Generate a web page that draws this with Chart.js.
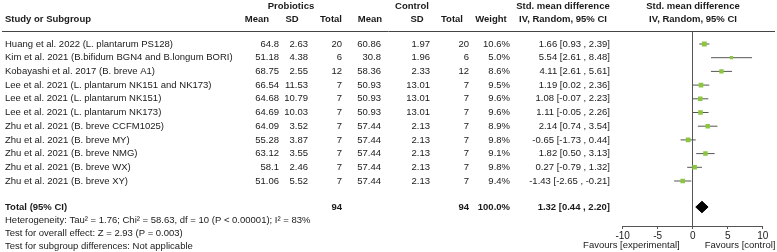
<!DOCTYPE html>
<html>
<head>
<meta charset="utf-8">
<script src="https://cdn.jsdelivr.net/npm/chart.js@4.4.1/dist/chart.umd.min.js"></script>
<style>
  body { margin: 0; background: #fff; }
  #wrap { width: 777px; height: 252px; }
</style>
</head>
<body>
<div id="wrap"><canvas id="forest"></canvas></div>
<script>
const studies = [
  'Huang et al. 2022 (L. plantarum PS128)',
  'Kim et al. 2021 (B.bifidum BGN4 and B.longum BORI)',
  'Kobayashi et al. 2017 (B. breve A1)',
  'Lee et al. 2021 (L. plantarum NK151 and NK173)',
  'Lee et al. 2021 (L. plantarum NK151)',
  'Lee et al. 2021 (L. plantarum NK173)',
  'Zhu et al. 2021 (B. breve CCFM1025)',
  'Zhu et al. 2021 (B. breve MY)',
  'Zhu et al. 2021 (B. breve NMG)',
  'Zhu et al. 2021 (B. breve WX)',
  'Zhu et al. 2021 (B. breve XY)'
];
const probMean = ['64.8', '51.18', '68.75', '66.54', '64.68', '64.69', '64.09', '55.28', '63.12', '58.1', '51.06'];
const probSD = ['2.63', '4.38', '2.55', '11.53', '10.79', '10.03', '3.52', '3.87', '3.55', '2.46', '5.52'];
const probN = [20, 6, 12, 7, 7, 7, 7, 7, 7, 7, 7];
const ctrlMean = ['60.86', '30.8', '58.36', '50.93', '50.93', '50.93', '57.44', '57.44', '57.44', '57.44', '57.44'];
const ctrlSD = ['1.97', '1.96', '2.33', '13.01', '13.01', '13.01', '2.13', '2.13', '2.13', '2.13', '2.13'];
const ctrlN = [20, 6, 12, 7, 7, 7, 7, 7, 7, 7, 7];
const weights = [10.6, 5.0, 8.6, 9.5, 9.6, 9.6, 8.9, 9.8, 9.1, 9.8, 9.4];
const smd = [1.66, 5.54, 4.11, 1.19, 1.08, 1.11, 2.14, -0.65, 1.82, 0.27, -1.43];
const ciLow = [0.93, 2.61, 2.61, 0.02, -0.07, -0.05, 0.74, -1.73, 0.50, -0.79, -2.65];
const ciHigh = [2.39, 8.48, 5.61, 2.36, 2.23, 2.26, 3.54, 0.44, 3.13, 1.32, -0.21];
const totalN = [94, 94];
const totalEffect = [1.32, 0.44, 2.20]; // estimate, low, high
const xTicks = [-10, -5, 0, 5, 10];
const footer = [
  'Heterogeneity: Tau\u00b2 = 1.76; Chi\u00b2 = 58.63, df = 10 (P < 0.00001); I\u00b2 = 83%',
  'Test for overall effect: Z = 2.93 (P = 0.003)',
  'Test for subgroup differences: Not applicable'
];

const FONT = '"Liberation Sans", Arial, sans-serif';
const SIZE = 9.5;
const TEXT = '#1a1a1a';
const LINE = '#555';
const TOTAL_ROW = 11.9;

const fmt = (v) => v.toFixed(2);
const effectText = (m, lo, hi) => fmt(m) + ' [' + fmt(lo) + ' , ' + fmt(hi) + ']';

// right edges of the table columns
const cols = { mean1: 279, sd1: 308, n1: 342, mean2: 381, sd2: 430, n2: 469, weight: 510, effect: 610 };

const tablePlugin = {
  id: 'table',
  afterDraw(chart) {
    const ctx = chart.ctx;
    const y = chart.scales.y;
    const x = chart.scales.x;
    ctx.save();
    ctx.fillStyle = TEXT;
    ctx.textBaseline = 'middle';

    const put = (s, px, py, align, bold) => {
      ctx.font = (bold ? 'bold ' : '') + SIZE + 'px ' + FONT;
      ctx.textAlign = align;
      ctx.fillText(s, px, py);
    };

    // headers
    put('Probiotics', 291, 6, 'center', true);
    put('Control', 412, 6, 'center', true);
    put('Std. mean difference', 563, 6, 'center', true);
    put('Std. mean difference', 693, 6, 'center', true);
    put('Study or Subgroup', 5, 19, 'left', true);
    put('Mean', 257, 19, 'center', true);
    put('SD', 292, 19, 'center', true);
    put('Total', 331, 19, 'center', true);
    put('Mean', 370, 19, 'center', true);
    put('SD', 417, 19, 'center', true);
    put('Total', 452, 19, 'center', true);
    put('Weight', 491, 19, 'center', true);
    put('IV, Random, 95% CI', 563, 19, 'center', true);
    put('IV, Random, 95% CI', 693, 19, 'center', true);

    ctx.strokeStyle = '#444';
    ctx.lineWidth = 1;
    ctx.beginPath();
    ctx.moveTo(2, 31.5);
    ctx.lineTo(775, 31.5);
    ctx.stroke();

    studies.forEach((s, i) => {
      const py = y.getPixelForValue(i);
      put(s, 5, py, 'left');
      put(probMean[i], cols.mean1, py, 'right');
      put(probSD[i], cols.sd1, py, 'right');
      put(String(probN[i]), cols.n1, py, 'right');
      put(ctrlMean[i], cols.mean2, py, 'right');
      put(ctrlSD[i], cols.sd2, py, 'right');
      put(String(ctrlN[i]), cols.n2, py, 'right');
      put(weights[i].toFixed(1) + '%', cols.weight, py, 'right');
      put(effectText(smd[i], ciLow[i], ciHigh[i]), cols.effect, py, 'right');
    });

    const ty = y.getPixelForValue(TOTAL_ROW);
    put('Total (95% CI)', 5, ty, 'left', true);
    put(String(totalN[0]), cols.n1, ty, 'right', true);
    put(String(totalN[1]), cols.n2, ty, 'right', true);
    put('100.0%', cols.weight, ty, 'right', true);
    put(effectText(totalEffect[0], totalEffect[1], totalEffect[2]), cols.effect, ty, 'right', true);

    footer.forEach((s, k) => put(s, 5, 220 + k * 13, 'left'));

    const zero = x.getPixelForValue(0);
    put('Favours [experimental]', zero - 13, 245, 'right');
    put('Favours [control]', zero + 12, 245, 'left');
    ctx.restore();
  }
};

const ciSets = studies.map((s, i) => ({
  type: 'line',
  data: [{ x: ciLow[i], y: i }, { x: ciHigh[i], y: i }],
  borderColor: LINE,
  borderWidth: 1,
  pointRadius: 0,
  order: 2
}));

const h = 0.42;
const diamond = {
  type: 'line',
  data: [
    { x: totalEffect[1], y: TOTAL_ROW },
    { x: totalEffect[0], y: TOTAL_ROW - h },
    { x: totalEffect[2], y: TOTAL_ROW },
    { x: totalEffect[0], y: TOTAL_ROW + h },
    { x: totalEffect[1], y: TOTAL_ROW }
  ],
  borderColor: '#000',
  backgroundColor: '#000',
  borderWidth: 1,
  pointRadius: 0,
  tension: 0,
  fill: 'shape',
  order: 1
};

const squares = {
  type: 'scatter',
  data: smd.map((m, i) => ({ x: m, y: i })),
  pointStyle: 'rect',
  pointRadius: weights.map(w => 1.05 * Math.sqrt(w)),
  backgroundColor: '#8cc63f',
  borderWidth: 0,
  order: 0
};

new Chart(document.getElementById('forest'), {
  type: 'scatter',
  data: { datasets: [squares, diamond].concat(ciSets) },
  options: {
    responsive: true,
    maintainAspectRatio: false,
    animation: false,
    events: [],
    layout: { padding: { left: 622.7, right: 14.3, top: 31, bottom: 0 } },
    plugins: { legend: { display: false }, tooltip: { enabled: false } },
    scales: {
      x: {
        type: 'linear',
        min: -10,
        max: 10,
        afterBuildTicks: (s) => { s.ticks = xTicks.map(v => ({ value: v })); },
        afterFit: (s) => { s.height = 26; },
        ticks: { font: { family: FONT, size: 10 }, color: TEXT, padding: 1 },
        grid: {
          color: (c) => (c.tick && c.tick.value === 0 ? LINE : 'rgba(0,0,0,0)'),
          tickColor: LINE,
          tickLength: 3
        },
        border: { display: true, color: LINE }
      },
      y: {
        type: 'linear',
        display: false,
        reverse: true,
        min: -0.949,
        max: 13.285
      }
    }
  },
  plugins: [tablePlugin]
});
</script>
</body>
</html>
